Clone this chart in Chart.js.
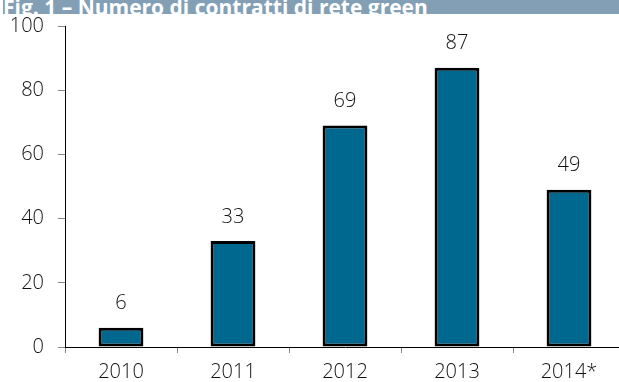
<!DOCTYPE html>
<html>
<head>
<meta charset="utf-8">
<script src="https://cdn.jsdelivr.net/npm/chart.js@4.4.0/dist/chart.umd.min.js"></script>
<style>
  html, body { margin: 0; padding: 0; background: #fff; }
  #wrap { position: relative; width: 619px; height: 382px; overflow: hidden; }
  #title {
    position: absolute; top: 0; left: 3px; width: 616px; height: 14px;
    background: #829fb5; overflow: hidden; z-index: 2;
  }
  #title span {
    position: absolute; left: 0; top: -7px; line-height: 21px;
    font: bold 21px "Open Sans", sans-serif; color: #fff; white-space: nowrap;
  }
  canvas { position: absolute; left: 0; top: 0; }
</style>
</head>
<body>
<div id="wrap">
  <div id="title"><span>Fig. 1 – Numero di contratti di rete green</span></div>
  <canvas id="chart" width="625" height="382"></canvas>
</div>
<script>
// data
const years = ["2010", "2011", "2012", "2013", "2014*"];
const contracts = [6, 33, 69, 87, 49];
const yTicks = [0, 20, 40, 60, 80, 100];

const fontFamily = '"Open Sans", sans-serif';

// value labels above each bar
const barLabels = {
    id: "barLabels",
    afterDatasetsDraw(chart) {
        const ctx = chart.ctx;
        const meta = chart.getDatasetMeta(0);
        ctx.save();
        ctx.font = "300 20px " + fontFamily;
        ctx.fillStyle = "#111";
        ctx.textAlign = "center";
        ctx.textBaseline = "middle";
        meta.data.forEach((bar, i) => {
            ctx.fillText(String(contracts[i]), bar.x, bar.y - 24);
        });
        ctx.restore();
    }
};

new Chart(document.getElementById("chart"), {
    type: "bar",
    data: {
        labels: years,
        datasets: [{
            data: contracts,
            backgroundColor: "#00688f",
            borderColor: "#000",
            borderWidth: 3,
            borderSkipped: false,
            categoryPercentage: 1,
            barPercentage: 0.4
        }]
    },
    options: {
        responsive: false,
        animation: false,
        layout: { padding: { top: 23, right: 0, bottom: 0, left: 0 } },
        plugins: {
            legend: { display: false },
            tooltip: { enabled: false }
        },
        scales: {
            x: {
                afterFit: (scale) => { scale.height = 35; },
                grid: {
                    offset: true,
                    drawOnChartArea: false,
                    drawTicks: true,
                    tickLength: 6,
                    color: "#888"
                },
                border: { color: "#000", width: 1 },
                ticks: {
                    color: "#111",
                    padding: 7,
                    font: { family: fontFamily, size: 20, weight: 300 }
                }
            },
            y: {
                min: 0,
                max: 100,
                afterBuildTicks: (scale) => {
                    scale.ticks = yTicks.map(v => ({ value: v }));
                },
                afterFit: (scale) => { scale.width = 65; },
                grid: {
                    drawOnChartArea: false,
                    drawTicks: true,
                    tickLength: 7,
                    color: "#888"
                },
                border: { color: "#000", width: 1 },
                ticks: {
                    color: "#111",
                    padding: 14,
                    font: { family: fontFamily, size: 20, weight: 300 }
                }
            }
        }
    },
    plugins: [barLabels]
});
</script>
</body>
</html>
